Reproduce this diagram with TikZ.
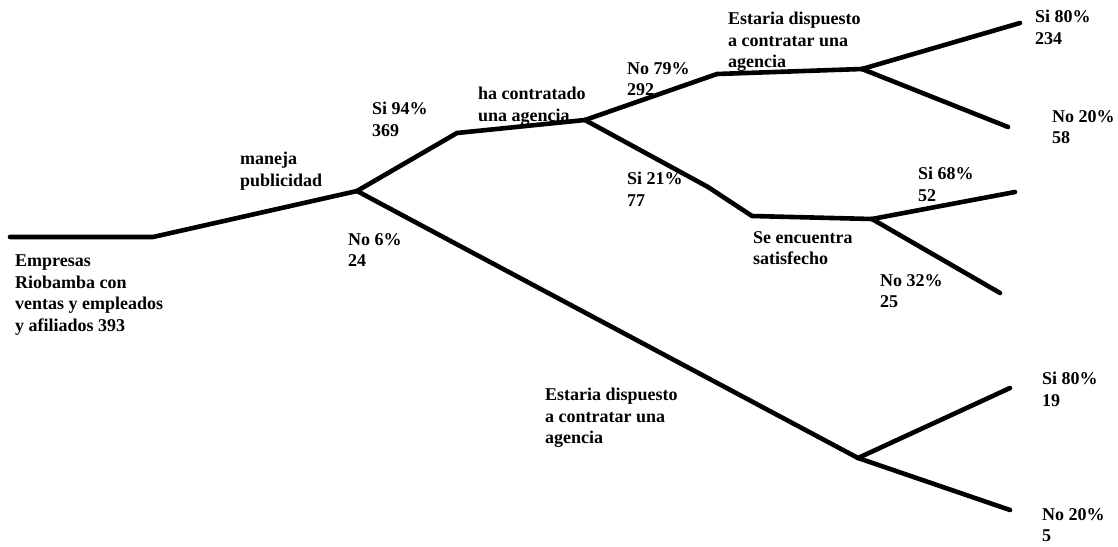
\documentclass[tikz,border=0pt]{standalone}
\usepackage{fontspec}
\setmainfont{Liberation Serif}
\begin{document}
\begin{tikzpicture}[x=1pt,y=-1pt,
  branch/.style={line width=4.6pt,line cap=round,line join=round},
  lbl/.style={anchor=north west,inner sep=0pt,align=left,font=\fontsize{18}{21.5}\selectfont\bfseries,text=black}]
\useasboundingbox (0,0) rectangle (1118,546);
% points
\coordinate (s0) at (10,237);
\coordinate (s1) at (153,237);
\coordinate (a) at (357,191);
\coordinate (b) at (457,133);
\coordinate (c) at (585,120);
\coordinate (d) at (717,74);
\coordinate (e) at (862,69);
\coordinate (e1) at (1020,23);
\coordinate (e2) at (1008,127);
\coordinate (k1) at (708,187);
\coordinate (k2) at (752,216);
\coordinate (f) at (872,219);
\coordinate (f1) at (1015,192);
\coordinate (f2) at (1000,293);
\coordinate (m) at (460,246);
\coordinate (g) at (858,458);
\coordinate (g1) at (1010,388);
\coordinate (g2) at (1010,510);
% connectors
\draw[branch] (s0) -- (s1) -- (a);
\draw[branch] (a) -- (b) -- (c);
\draw[branch] (c) -- (d) -- (e);
\draw[branch] (e) -- (e1);
\draw[branch] (e) -- (e2);
\draw[branch] (c) -- (k1) -- (k2) -- (f);
\draw[branch] (f) -- (f1);
\draw[branch] (f) -- (f2);
\draw[branch] (a) -- (m) -- (g);
\draw[branch] (g) -- (g1);
\draw[branch] (g) -- (g2);
% labels
\node[lbl] (t0) at (15,255) {Empresas\\Riobamba con\\ventas y empleados\\y afiliados 393};
\node[lbl] (t1) at (240,152) {maneja\\publicidad};
\node[lbl] (t2) at (348,233) {No 6\%\\24};
\node[lbl] (t3) at (372,102) {Si 94\%\\369};
\node[lbl] (t4) at (478,87) {ha contratado\\una agencia};
\node[lbl] (t5) at (627,62) {No 79\%\\292};
\node[lbl] (t6) at (627,172) {Si 21\%\\77};
\node[lbl] (t7) at (728,12) {Estaria dispuesto\\a contratar una\\agencia};
\node[lbl] (t8) at (1035,10) {Si 80\%\\234};
\node[lbl] (t9) at (1052,110) {No 20\%\\58};
\node[lbl] (t10) at (918,167) {Si 68\%\\52};
\node[lbl] (t11) at (753,231) {Se encuentra\\satisfecho};
\node[lbl] (t12) at (880,274) {No 32\%\\25};
\node[lbl] (t13) at (545,388) {Estaria dispuesto\\a contratar una\\agencia};
\node[lbl] (t14) at (1042,372) {Si 80\%\\19};
\node[lbl] (t15) at (1042,508) {No 20\%\\5};
\end{tikzpicture}
\end{document}
